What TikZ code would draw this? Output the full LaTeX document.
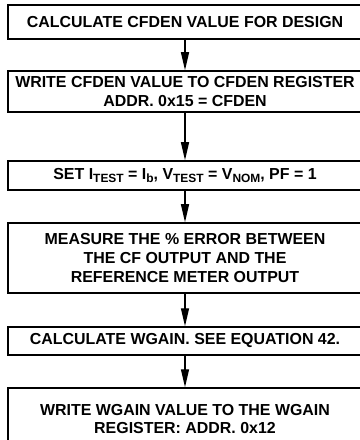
\documentclass[tikz,border=0pt]{standalone}
\usepackage{fontspec}
\setmainfont{Liberation Sans}
\usetikzlibrary{arrows.meta}
\newcommand\lowsub[1]{\raisebox{-0.35ex}{\fontsize{12}{12}\selectfont #1}}
\tikzset{
  flowbox/.style={draw, line width=1.5bp, minimum width=354bp, inner sep=0pt,
    align=center, font=\bfseries\fontsize{16}{19}\selectfont},
  flowarrow/.style={line width=1.3bp, -{Triangle[length=18bp, width=8bp]}}
}
\begin{document}
\begin{tikzpicture}[x=1bp,y=1bp]
\useasboundingbox (0,0) rectangle (359,-440);
\node[flowbox, minimum height=34bp] (b1) at (185,-22) {CALCULATE CFDEN VALUE FOR DESIGN};
\node[flowbox, minimum height=41bp] (b2) at (185,-91.5) {WRITE CFDEN VALUE TO CFDEN REGISTER\\ADDR. 0x15 = CFDEN};
\node[flowbox, minimum height=29bp] (b3) at (185,-175.5) {SET I\lowsub{TEST} = I\lowsub{b}, V\lowsub{TEST} = V\lowsub{NOM}, PF = 1};
\node[flowbox, minimum height=70bp] (b4) at (185,-258) {MEASURE THE \% ERROR BETWEEN\\THE CF OUTPUT AND THE\\REFERENCE METER OUTPUT};
\node[flowbox, minimum height=28bp] (b5) at (185,-341) {CALCULATE WGAIN. SEE EQUATION 42.};
\node[flowbox, minimum height=62bp, font=\bfseries\fontsize{16}{17.5}\selectfont] (b6) at (185,-419) {WRITE WGAIN VALUE TO THE WGAIN\\REGISTER: ADDR. 0x12};
\draw[flowarrow] (b1) -- (b2);
\draw[flowarrow] (b2) -- (b3);
\draw[flowarrow] (b3) -- (b4);
\draw[flowarrow] (b4) -- (b5);
\draw[flowarrow] (b5) -- (b6);
\end{tikzpicture}
\end{document}
